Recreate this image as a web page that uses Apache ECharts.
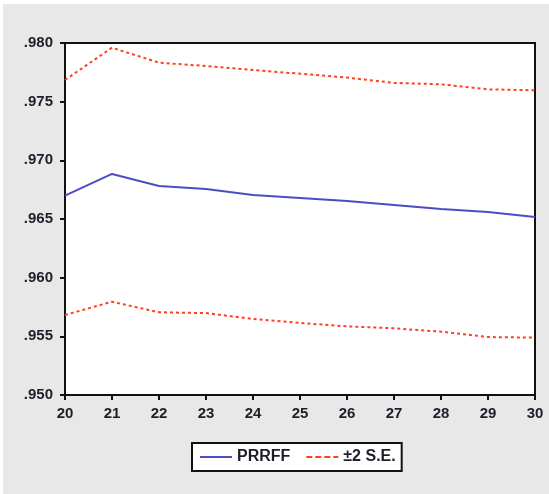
<!DOCTYPE html>
<html>
<head>
<meta charset="utf-8">
<script src="https://cdn.jsdelivr.net/npm/echarts@6/dist/echarts.min.js"></script>
<style>
  html, body { margin: 0; padding: 0; background: #ffffff; }
  #frame { position: absolute; left: 3px; top: 4px; width: 546px; height: 490px; background: #e8e8e8; }
  #chart { position: absolute; left: 0; top: 0; width: 549px; height: 494px; }
</style>
</head>
<body>
<div id="frame"></div>
<div id="chart"></div>
<script>
// Forecast horizon (periods)
const periods = ['20', '21', '22', '23', '24', '25', '26', '27', '28', '29', '30'];
// Point forecast
const prrff = [0.96699, 0.96884, 0.96781, 0.96756, 0.96705, 0.96680, 0.96653, 0.96620, 0.96585, 0.96560, 0.96517];
// Upper band (+2 S.E.)
const upperBand = [0.97685, 0.97960, 0.97832, 0.97804, 0.97770, 0.97738, 0.97705, 0.97660, 0.97648, 0.97605, 0.97597];
// Lower band (-2 S.E.)
const lowerBand = [0.95682, 0.95795, 0.95705, 0.95698, 0.95648, 0.95614, 0.95585, 0.95568, 0.95540, 0.95494, 0.95489];

const blue = '#4c4cc4';
const red = '#ff4020';
const font = 'Liberation Sans, Arial, sans-serif';

const chart = echarts.init(document.getElementById('chart'), null, { renderer: 'canvas' });
chart.setOption({
  animation: false,
  backgroundColor: 'transparent',
  grid: {
    left: 65, right: 14, top: 43, bottom: 99,
    show: true, backgroundColor: '#ffffff', borderColor: '#111111', borderWidth: 2
  },
  xAxis: {
    type: 'category',
    data: periods,
    boundaryGap: false,
    axisLine: { lineStyle: { color: '#111111', width: 2 } },
    axisTick: { show: true, length: 5, inside: false, lineStyle: { color: '#111111', width: 2 } },
    axisLabel: { color: '#1e1e2a', fontFamily: font, fontSize: 15, fontWeight: 'bold', margin: 11 },
    splitLine: { show: false }
  },
  yAxis: {
    type: 'value',
    min: 0.95, max: 0.98, interval: 0.005,
    axisLine: { show: true, lineStyle: { color: '#111111', width: 2 } },
    axisTick: { show: true, length: 5, lineStyle: { color: '#111111', width: 2 } },
    axisLabel: {
      color: '#1e1e2a', fontFamily: font, fontSize: 15, fontWeight: 'bold', margin: 12,
      formatter: v => v.toFixed(3).replace(/^0/, '')
    },
    splitLine: { show: false }
  },
  legend: {
    left: 192, top: 443,
    padding: [6, 6, 6, 8],
    backgroundColor: '#ffffff', borderColor: '#111111', borderWidth: 2,
    itemWidth: 32, itemHeight: 10, itemGap: 16,
    textStyle: { color: '#1e1e2a', fontFamily: font, fontSize: 16, fontWeight: 'bold' },
    data: [
      { name: 'PRRFF', icon: 'path://M0,4 L32,4 L32,6 L0,6 Z', itemStyle: { color: blue } },
      { name: '±2 S.E.', icon: 'path://M0,4 L6,4 L6,6 L0,6 Z M9,4 L15,4 L15,6 L9,6 Z M18,4 L24,4 L24,6 L18,6 Z M27,4 L32,4 L32,6 L27,6 Z', itemStyle: { color: red } }
    ]
  },
  series: [
    {
      name: 'PRRFF', type: 'line', data: prrff, showSymbol: false,
      lineStyle: { color: blue, width: 2 }, itemStyle: { color: blue }
    },
    {
      name: '±2 S.E.', type: 'line', data: upperBand, showSymbol: false,
      lineStyle: { color: red, width: 2, type: [3, 3] }, itemStyle: { color: red }
    },
    {
      name: '±2 S.E.', type: 'line', data: lowerBand, showSymbol: false,
      lineStyle: { color: red, width: 2, type: [3, 3] }, itemStyle: { color: red }
    }
  ]
});
</script>
</body>
</html>
